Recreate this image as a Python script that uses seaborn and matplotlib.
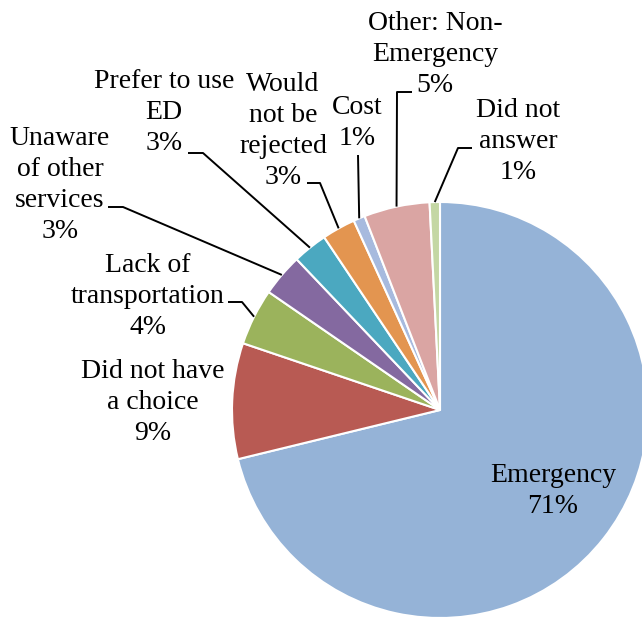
import numpy as np
import matplotlib
matplotlib.use("Agg")
import matplotlib.pyplot as plt
import seaborn as sns

# reasons for visiting the ED (share of answers, %)
categories = ['Emergency', 'Did not have\na choice', 'Lack of\ntransportation',
              'Unaware\nof other\nservices', 'Prefer to use\nED', 'Would\nnot be\nrejected',
              'Cost', 'Other: Non-\nEmergency', 'Did not\nanswer']
values = [71.2, 9.0, 4.4, 3.3, 2.7, 2.6, 0.9, 5.1, 0.8]
colors = ['#95B3D7', '#B85A53', '#9BB35C', '#8469A0', '#4BA8C0',
          '#E39550', '#A7BADE', '#DAA5A3', '#C4D7A4']

W, H = 642, 619
# label x centre / baseline of the % line, and leader elbows (pixels, y from top)
label_xy = [(553, 513), (153, 440), (148, 334), (60, 238), (164, 150),
            (283, 184), (357, 145), (435, 92), (518, 179)]
leaders = {2: [(228, 302), (242, 302)], 3: [(108, 207), (123, 207)],
           4: [(188, 153), (203, 153)], 5: [(307, 183), (320, 183)],
           6: [(358, 155)], 7: [(412, 92), (397, 92)], 8: [(472, 148), (458, 148)]}

sns.set_theme(style='white')
plt.rcParams['font.family'] = ['Liberation Serif', 'DejaVu Serif']

fig = plt.figure(figsize=(W / 100, H / 100), dpi=100)
ax = fig.add_axes([0, 0, 1, 1])

cx, cy, r = 440, H - 410, 208
wedges, _ = ax.pie(values, colors=colors, startangle=90, counterclock=False,
                   center=(cx, cy), radius=r,
                   wedgeprops=dict(edgecolor='white', linewidth=1.5))
ax.set_xlim(0, W)
ax.set_ylim(0, H)
ax.set_aspect('equal')
ax.axis('off')

for i, (w, name, v) in enumerate(zip(wedges, categories, values)):
    lx, ly = label_xy[i]
    ax.text(lx, H - ly, f"{name}\n{v:.0f}%", ha='center', va='baseline',
            multialignment='center', fontsize=20, color='black', linespacing=1.32)
    if i in leaders:
        t = np.deg2rad((w.theta1 + w.theta2) / 2)
        px, py = cx + r * np.cos(t), cy + r * np.sin(t)
        pts = [(x, H - y) for x, y in leaders[i]] + [(px, py)]
        ax.plot([p[0] for p in pts], [p[1] for p in pts], color='black', lw=1.4,
                solid_capstyle='butt')

fig.savefig('out.png', dpi=100)
